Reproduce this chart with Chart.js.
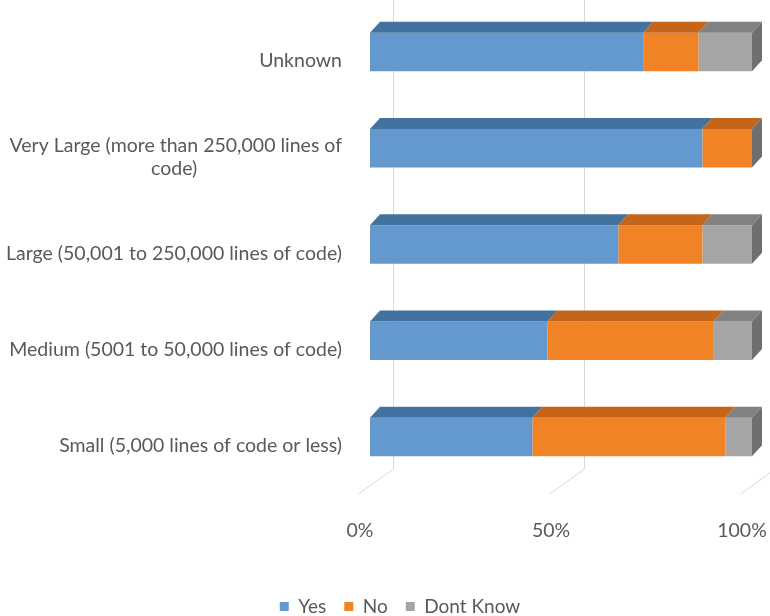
<!DOCTYPE html>
<html>
<head>
<meta charset="utf-8">
<script src="https://cdn.jsdelivr.net/npm/chart.js@4.4.0/dist/chart.umd.min.js"></script>
<style>
  html, body { margin: 0; padding: 0; background: #ffffff; }
  #wrap { width: 770px; height: 616px; }
</style>
</head>
<body>
<div id="wrap"><canvas id="myChart" width="770" height="616"></canvas></div>
<script>
// Chart data
var categories = [
    'Unknown',
    ['Very Large (more than 250,000 lines of', 'code)'],
    'Large (50,001 to 250,000 lines of code)',
    'Medium (5001 to 50,000 lines of code)',
    'Small (5,000 lines of code or less)'
];
var yesValues = [71.5, 87, 65, 46.5, 42.5];
var noValues = [14.5, 13, 22, 43.5, 50.5];
var dontKnowValues = [14, 0, 13, 10, 7];
var seriesNames = ['Yes', 'No', 'Dont Know'];
var tickLabels = ['0%', '50%', '100%'];

var frontColors = ['#6499cf', '#ef8326', '#a5a5a5'];
var topColors = ['#44729f', '#c4651a', '#818181'];
var sideColor = '#6f6f6f';
var textColor = '#595959';
var labelFont = { family: 'Lato', size: 19.5 };

// fake 3D look: back grid, top faces and end face of each bar
var depth3d = {
    id: 'depth3d',
    afterLayout: function (chart) {
        // legend sits a little right of centre in the original
        chart.legend.left += 48;
    },
    beforeDatasetsDraw: function (chart) {
        var ctx = chart.ctx;
        var xs = chart.scales.x;
        var area = chart.chartArea;
        ctx.save();
        ctx.strokeStyle = '#d9d9d9';
        ctx.lineWidth = 1;
        [0, 50, 100].forEach(function (v) {
            var gx = Math.round(xs.getPixelForValue(v) + 23) + 0.5;
            ctx.beginPath();
            ctx.moveTo(gx, 0);
            ctx.lineTo(gx, area.bottom - 16);
            ctx.lineTo(gx - 35, area.bottom + 9);
            ctx.stroke();
        });
        ctx.restore();
    },
    afterDatasetsDraw: function (chart) {
        var ctx = chart.ctx;
        var dx = 10, dy = 11;
        ctx.save();
        chart.data.datasets.forEach(function (ds, i) {
            var meta = chart.getDatasetMeta(i);
            meta.data.forEach(function (bar) {
                var p = bar.getProps(['x', 'base', 'y', 'height'], true);
                if (p.x - p.base < 0.5) return;
                var top = p.y - p.height / 2;
                ctx.fillStyle = topColors[i];
                ctx.beginPath();
                ctx.moveTo(p.base, top);
                ctx.lineTo(p.x, top);
                ctx.lineTo(p.x + dx, top - dy);
                ctx.lineTo(p.base + dx, top - dy);
                ctx.closePath();
                ctx.fill();
            });
        });
        var last = chart.getDatasetMeta(chart.data.datasets.length - 1);
        last.data.forEach(function (bar) {
            var p = bar.getProps(['x', 'y', 'height'], true);
            var top = p.y - p.height / 2;
            var bottom = p.y + p.height / 2;
            ctx.fillStyle = sideColor;
            ctx.beginPath();
            ctx.moveTo(p.x, top);
            ctx.lineTo(p.x + dx, top - dy);
            ctx.lineTo(p.x + dx, bottom - dy);
            ctx.lineTo(p.x, bottom);
            ctx.closePath();
            ctx.fill();
        });
        ctx.restore();
    }
};

var ctx = document.getElementById('myChart').getContext('2d');

// centre the shorter lines of a multi-line label under the longest one
function centreLines(lines) {
    ctx.save();
    ctx.font = labelFont.size + 'px "' + labelFont.family + '"';
    var space = ctx.measureText(' ').width;
    var widths = lines.map(function (l) { return ctx.measureText(l).width; });
    var maxW = Math.max.apply(null, widths);
    ctx.restore();
    return lines.map(function (l, i) {
        var n = Math.round((maxW - widths[i]) / 2 / space);
        return l + ' '.repeat(n);
    });
}

var myChart = new Chart(ctx, {
    type: 'bar',
    data: {
        labels: categories,
        datasets: [
            { label: seriesNames[0], data: yesValues, backgroundColor: frontColors[0] },
            { label: seriesNames[1], data: noValues, backgroundColor: frontColors[1] },
            { label: seriesNames[2], data: dontKnowValues, backgroundColor: frontColors[2] }
        ]
    },
    options: {
        indexAxis: 'y',
        responsive: false,
        animation: false,
        barPercentage: 0.8,
        categoryPercentage: 0.5,
        layout: { padding: { left: 0, right: 18, top: 4, bottom: -10 } },
        scales: {
            x: {
                stacked: true,
                min: 0,
                max: 100,
                grid: { display: false },
                border: { display: false },
                ticks: {
                    stepSize: 50,
                    padding: 26,
                    labelOffset: -10,
                    color: textColor,
                    font: labelFont,
                    callback: function (v) { return tickLabels[v / 50]; }
                },
                afterFit: function (s) {
                    s.height = 94;
                    s.paddingLeft = 0;
                    s.paddingRight = 0;
                }
            },
            y: {
                stacked: true,
                grid: { display: false },
                border: { display: false },
                ticks: {
                    padding: 20,
                    labelOffset: 9,
                    color: textColor,
                    font: labelFont,
                    callback: function (v) {
                        var lbl = this.getLabelForValue(v);
                        return Array.isArray(lbl) ? centreLines(lbl) : lbl;
                    }
                },
                afterFit: function (s) {
                    s.width = 370;
                    s.paddingTop = 0;
                    s.paddingBottom = 0;
                }
            }
        },
        plugins: {
            tooltip: { enabled: false },
            legend: {
                position: 'bottom',
                labels: {
                    boxWidth: 9,
                    boxHeight: 9,
                    padding: 18,
                    color: textColor,
                    font: { family: 'Lato', size: 19 }
                }
            }
        }
    },
    plugins: [depth3d]
});
</script>
</body>
</html>
